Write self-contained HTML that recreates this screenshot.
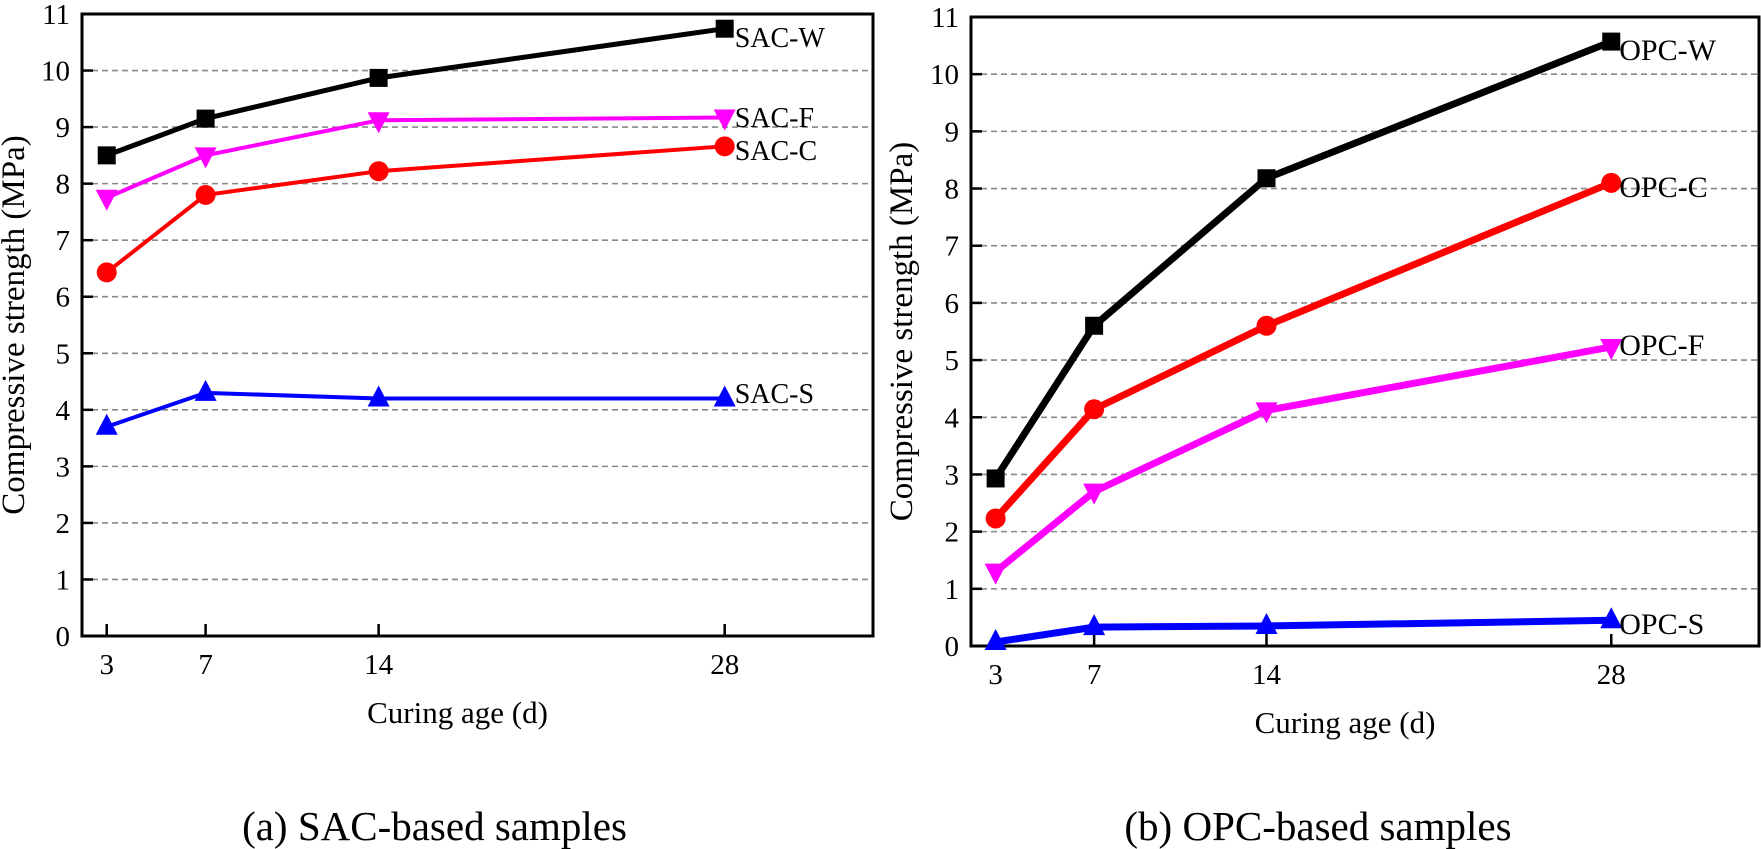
<!DOCTYPE html>
<html><head><meta charset="utf-8"><style>
html,body{margin:0;padding:0;background:#fff;}
svg{display:block;font-family:"Liberation Serif",serif;}
</style></head><body>
<svg id="s" width="1761" height="849" viewBox="0 0 1761 849" xmlns="http://www.w3.org/2000/svg"></svg>
<script>
const s=document.getElementById('s');let h='';
function panel(o){
  const X=v=>o.x0+(v-2)*(o.x1-o.x0)/32, Y=v=>o.y0-(v)*(o.y0-o.y11)/11;
  for(let i=1;i<=10;i++){h+=`<line x1="${o.x0}" x2="${o.x1}" y1="${Y(i)}" y2="${Y(i)}" stroke="#888" stroke-width="1.6" stroke-dasharray="6,4"/>`;}
  for(let i=0;i<=11;i++){h+=`<line x1="${o.x0}" x2="${o.x0+11}" y1="${Y(i)}" y2="${Y(i)}" stroke="#000" stroke-width="2.5"/>`;
    h+=`<text x="${o.x0-12}" y="${Y(i)+10}" font-size="29" text-anchor="end">${i}</text>`;}
  [3,7,14,28].forEach(d=>{h+=`<line x1="${X(d)}" x2="${X(d)}" y1="${o.y0}" y2="${o.y0-12}" stroke="#000" stroke-width="2.5"/>`;
    h+=`<text x="${X(d)}" y="${o.y0+38}" font-size="29" text-anchor="middle">${d}</text>`;});
  h+=`<rect x="${o.x0}" y="${o.y11}" width="${o.x1-o.x0}" height="${o.y0-o.y11}" fill="none" stroke="#000" stroke-width="3"/>`;
  h+=`<text x="${(o.x0+o.x1)/2-20}" y="${o.y0+87}" font-size="31" text-anchor="middle">Curing age (d)</text>`;
  h+=`<text transform="translate(${o.yl},${(o.y0+o.y11)/2}) rotate(-90)" font-size="33" text-anchor="middle">Compressive strength (MPa)</text>`;
  h+=`<text x="${(o.x0+o.x1)/2+o.tx}" y="840" font-size="41" text-anchor="middle">${o.title}</text>`;
  const ds=[3,7,14,28];
  o.series.forEach(se=>{
    const pts=se.v.map((v,i)=>[X(ds[i]),Y(v)]);
    h+=`<polyline points="${pts.map(p=>p.join(',')).join(' ')}" fill="none" stroke="${se.c}" stroke-width="${se.w}" stroke-linejoin="round"/>`;
    pts.forEach(([x,y])=>{
      const r=o.m;
      if(se.m=='s')h+=`<rect x="${x-r}" y="${y-r}" width="${2*r}" height="${2*r}" fill="${se.c}"/>`;
      if(se.m=='c')h+=`<circle cx="${x}" cy="${y}" r="${r+1}" fill="${se.c}"/>`;
      if(se.m=='d')h+=`<polygon points="${x-r-2},${y-r+1} ${x+r+2},${y-r+1} ${x},${y+r+4}" fill="${se.c}"/>`;
      if(se.m=='u')h+=`<polygon points="${x-r-2},${y+r-1} ${x+r+2},${y+r-1} ${x},${y-r-4}" fill="${se.c}"/>`;
    });
    h+=`<text x="${X(28)+o.lx}" y="${se.ly}" font-size="${o.fs}">${se.n}</text>`;
  });
}
panel({x0:82,x1:873,y0:636,y11:14,yl:24,tx:-43,title:"(a) SAC-based samples",m:9,lx:10,fs:28,series:[
 {n:"SAC-W",c:"#000",w:5,m:'s',v:[8.5,9.15,9.87,10.74],ly:47},
 {n:"SAC-F",c:"#ff00ff",w:4,m:'d',v:[7.75,8.5,9.12,9.17],ly:127},
 {n:"SAC-C",c:"#ff0000",w:4,m:'c',v:[6.43,7.8,8.22,8.66],ly:160},
 {n:"SAC-S",c:"#0000ff",w:4,m:'u',v:[3.7,4.3,4.2,4.2],ly:403}]});
panel({x0:971,x1:1759,y0:646,y11:17,yl:912,tx:-47,title:"(b) OPC-based samples",m:9,lx:8,fs:30,series:[
 {n:"OPC-W",c:"#000",w:7,m:'s',v:[2.93,5.6,8.18,10.57],ly:60},
 {n:"OPC-C",c:"#ff0000",w:7,m:'c',v:[2.23,4.14,5.6,8.1],ly:197},
 {n:"OPC-F",c:"#ff00ff",w:7,m:'d',v:[1.3,2.7,4.12,5.23],ly:355},
 {n:"OPC-S",c:"#0000ff",w:7,m:'u',v:[0.07,0.33,0.35,0.45],ly:634}]});
s.innerHTML=h;
</script>
</body></html>
